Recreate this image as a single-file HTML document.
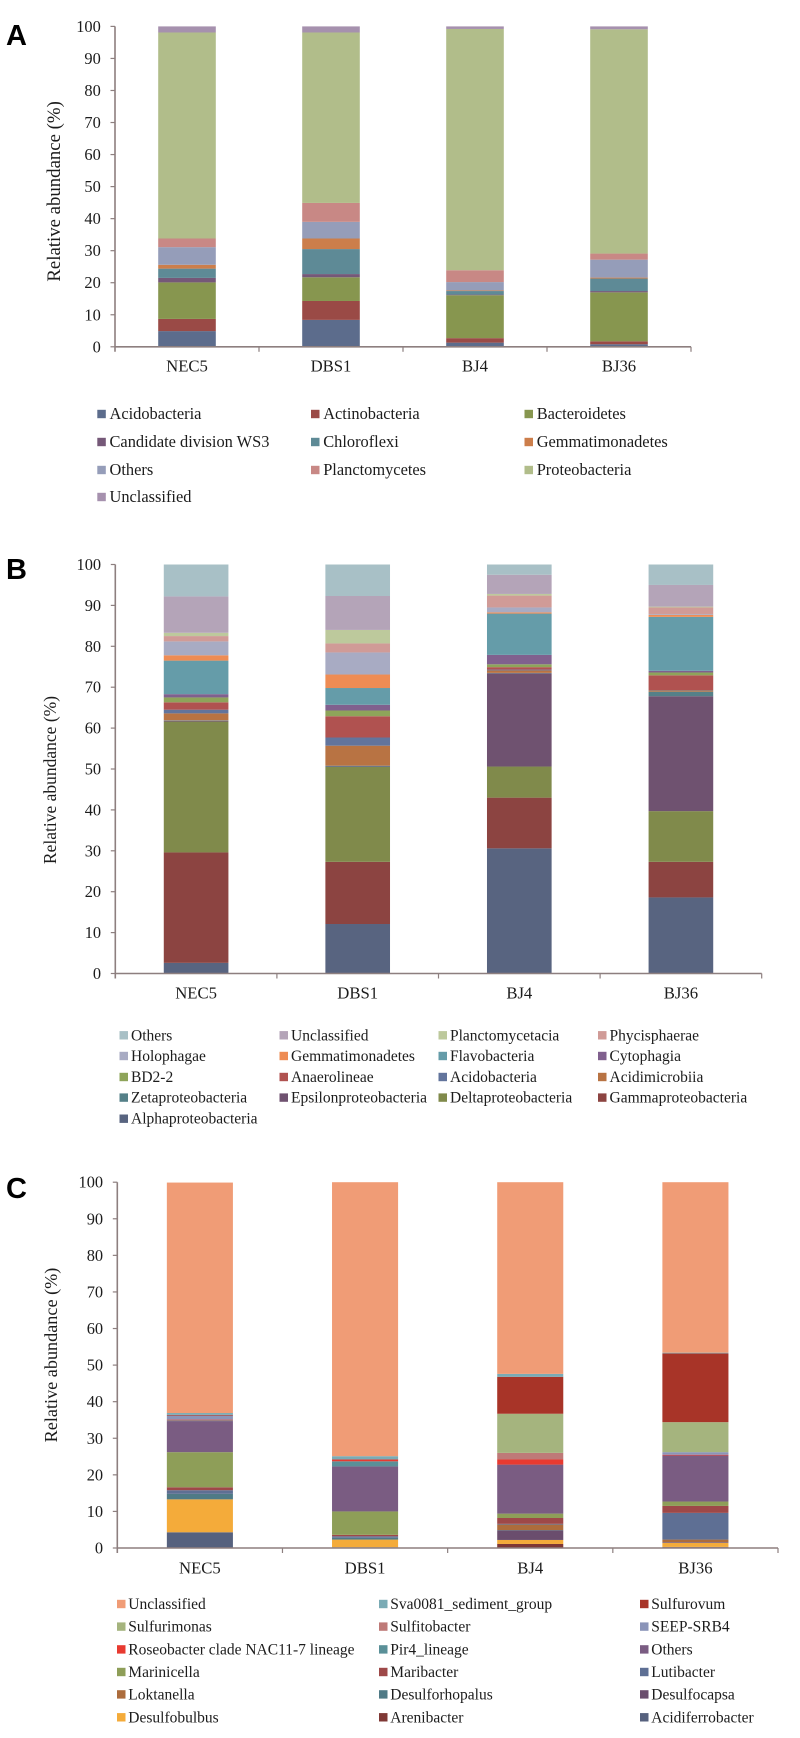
<!DOCTYPE html>
<html lang="en">
<head>
<meta charset="utf-8">
<title>Relative abundance stacked bar charts</title>
<style>
html,body{margin:0;padding:0;background:#fff;width:800px;height:1738px;overflow:hidden}
svg{display:block;filter:blur(0.3px)}
text{font-family:"Liberation Serif",serif;fill:#1c1c1c}
.panel-letter{font-family:"Liberation Sans",sans-serif;font-weight:bold;fill:#000}
</style>
</head>
<body>
<svg id="figure" xmlns="http://www.w3.org/2000/svg" width="800" height="1738" viewBox="0 0 800 1738">
  <rect x="0" y="0" width="800" height="1738" fill="#ffffff"/>
</svg>
<script>
// Shared axis data
const samples = ["NEC5", "DBS1", "BJ4", "BJ36"];
const yTicks = [0, 10, 20, 30, 40, 50, 60, 70, 80, 90, 100];

// Panel A: phylum level (stack order, bottom to top)
const seriesA = ["Acidobacteria","Actinobacteria","Bacteroidetes","Candidate division WS3","Chloroflexi","Gemmatimonadetes","Others","Planctomycetes","Proteobacteria","Unclassified"];
const a_NEC5 = [4.9,3.8,11.4,1.4,2.9,1.2,5.5,2.7,64.3,1.9];
const a_DBS1 = [8.4,5.9,7.4,1.0,7.8,3.3,5.2,5.9,53.2,1.9];
const a_BJ4  = [1.3,1.4,13.4,0.2,1.1,0.2,2.6,3.7,75.3,0.8];
const a_BJ36 = [0.8,0.9,15.3,0.4,3.9,0.3,5.6,1.9,70.0,0.9];

// Panel B: class level (stack order, bottom to top)
const seriesB = ["Alphaproteobacteria","Gammaproteobacteria","Deltaproteobacteria","Epsilonproteobacteria","Zetaproteobacteria","Acidimicrobiia","Acidobacteria","Anaerolineae","BD2-2","Cytophagia","Flavobacteria","Gemmatimonadetes","Holophagae","Phycisphaerae","Planctomycetacia","Unclassified","Others"];
const b_NEC5 = [2.6,27.0,32.0,0.2,0.1,1.7,0.9,1.8,1.2,0.8,8.2,1.3,3.4,1.3,0.8,8.9,7.8];
const b_DBS1 = [12.1,15.2,23.2,0.1,0.2,4.9,2.0,5.2,1.4,1.4,4.1,3.3,5.4,2.2,3.3,8.3,7.7];
const b_BJ4  = [30.6,12.4,7.6,22.8,0.1,0.6,0.2,0.6,0.7,2.3,10.1,0.3,1.2,2.9,0.4,4.7,2.5];
const b_BJ36 = [18.6,8.7,12.4,28.1,1.1,0.3,0.1,3.6,0.7,0.4,13.2,0.5,0.2,1.6,0.2,5.3,5.0];

// Panel C: genus level (stack order, bottom to top)
const seriesC = ["Acidiferrobacter","Arenibacter","Desulfobulbus","Desulfocapsa","Desulforhopalus","Loktanella","Lutibacter","Maribacter","Marinicella","Others","Pir4_lineage","Roseobacter clade NAC11-7 lineage","SEEP-SRB4","Sulfitobacter","Sulfurimonas","Sulfurovum","Sva0081_sediment_group","Unclassified"];
const c_NEC5 = [4.3,0,9.0,0,1.5,0,1.0,0.8,9.6,8.5,0.2,0.2,1.1,0,0,0.2,0.5,63.0];
const c_DBS1 = [0.2,0,2.1,0,0.5,0,0.4,0.4,6.4,12.3,1.4,0.5,0,0,0,0,0.9,74.9];
const c_BJ4  = [0,1.1,1.1,2.6,0.1,1.5,0.2,1.6,1.2,13.4,0,1.4,0,1.8,10.7,10.1,0.8,52.4];
const c_BJ36 = [0.2,0.1,1.1,0.2,0,0.7,7.3,1.9,1.2,12.6,0,0.2,0.7,0,8.2,18.8,0.2,46.6];

// Palettes
const paletteA = ["#5c6c8c","#9a4a46","#87964f","#755878","#5e8a96","#cc7e4b","#959db9","#c88885","#b1bd8a","#a691ae"];
const paletteB = ["#586480","#8c4441","#808a4b","#6f5270","#558088","#b87343","#62749c","#b05250","#8ea45a","#80608e","#659ca9","#ee8c54","#a8abc3","#d09b97","#bdc99c","#b4a4b8","#a8c0c6"];
const paletteC = ["#56617e","#7f3835","#f4ab3a","#6a4d6d","#4f7a86","#ac6c3c","#5e6f94","#9e4848","#8e9e58","#7a5c82","#5a9098","#e83a30","#8a94b8","#be7a78","#a5b47e","#a83428","#7aabb5","#f09c76"];

const SVG_NS = "http://www.w3.org/2000/svg";
const AXIS_COLOR = "#8d7f7f";
const figure = document.getElementById("figure");

function make(parent, tag, attrs, content) {
  const el = document.createElementNS(SVG_NS, tag);
  for (const k in attrs) el.setAttribute(k, attrs[k]);
  if (content !== undefined) el.textContent = content;
  parent.appendChild(el);
  return el;
}

function kebab(s) {
  return String(s).toLowerCase().replace(/[^a-z0-9]+/g, "-").replace(/^-|-$/g, "");
}

function drawPanel(cfg) {
  const g = make(figure, "g", {});
  
  

  const yScale = v => cfg.bottom - (v / 100) * (cfg.bottom - cfg.top);
  const band = (cfg.right - cfg.left) / samples.length;
  const xCenter = i => cfg.left + band * (i + 0.5);
  const barWidth = band * cfg.barRatio;

  const letter = make(g, "text", {class: "panel-letter", x: cfg.letterX, y: cfg.letterY, "font-size": 29}, cfg.id.toUpperCase());
  
  

  // stacked bars
  cfg.values.forEach((vals, i) => {
    let acc = 0;
    vals.forEach((v, s) => {
      if (v <= 0) return;
      const y1 = yScale(acc);
      const y2 = yScale(acc + v);
      const seg = make(g, "rect", {x: xCenter(i) - barWidth / 2, y: y2, width: barWidth, height: y1 - y2, fill: cfg.palette[s]});
      
      
      acc += v;
    });
  });

  // axes
  const yAxis = make(g, "line", {x1: cfg.left, x2: cfg.left, y1: cfg.top, y2: cfg.bottom + 5, stroke: AXIS_COLOR, "stroke-width": 1.6});
  
  
  const xAxis = make(g, "line", {x1: cfg.left, x2: cfg.right, y1: cfg.bottom, y2: cfg.bottom, stroke: AXIS_COLOR, "stroke-width": 1.6});
  
  

  yTicks.forEach(t => {
    const mark = make(g, "line", {x1: cfg.left - 4.5, x2: cfg.left, y1: yScale(t), y2: yScale(t), stroke: AXIS_COLOR, "stroke-width": 1.2});
    
    
    const label = make(g, "text", {x: cfg.left - 14.2, y: yScale(t) + 5.5, "text-anchor": "end", "font-size": 16.4}, t);
    
    
  });

  samples.forEach((name, i) => {
    const mark = make(g, "line", {x1: cfg.left + band * (i + 1), x2: cfg.left + band * (i + 1), y1: cfg.bottom, y2: cfg.bottom + 5, stroke: AXIS_COLOR, "stroke-width": 1.2});
    
    
    const label = make(g, "text", {x: xCenter(i), y: cfg.xLabelY + 5.5, "text-anchor": "middle", "font-size": 16.7}, name);
    
    
  });

  const title = make(g, "text", {
    x: cfg.titleX, y: cfg.titleY, "text-anchor": "middle", "font-size": cfg.titleSize,
    transform: "rotate(-90 " + cfg.titleX + " " + cfg.titleY + ")"
  }, "Relative abundance (%)");
  
  

  // legend
  const order = cfg.series.map((_, s) => s);
  if (cfg.reverseLegend) order.reverse();
  order.forEach((s, n) => {
    const col = n % cfg.legendCols.length;
    const row = Math.floor(n / cfg.legendCols.length);
    const ly = cfg.legendRows[row];
    const entry = make(g, "g", {});
    
    
    const swatch = make(entry, "rect", {x: cfg.legendCols[col], y: ly - 4.2, width: 8.5, height: 8.4, fill: cfg.palette[s]});
    
    
    const text = make(entry, "text", {x: cfg.legendCols[col] + cfg.legendGap, y: ly + 5, "font-size": cfg.legendSize}, cfg.series[s]);
    
    
  });
}

drawPanel({
  id: "a", series: seriesA, palette: paletteA, values: [a_NEC5, a_DBS1, a_BJ4, a_BJ36],
  left: 115, right: 691, top: 26.4, bottom: 346.8, barRatio: 0.4,
  letterX: 6, letterY: 45, xLabelY: 366,
  titleX: 60, titleY: 191.4, titleSize: 18.8,
  legendCols: [97.3, 311, 524.5], legendRows: [414, 442, 470, 497], legendGap: 12.2, legendSize: 16.4, reverseLegend: false
});

drawPanel({
  id: "b", series: seriesB, palette: paletteB, values: [b_NEC5, b_DBS1, b_BJ4, b_BJ36],
  left: 115.3, right: 761.7, top: 564.5, bottom: 973.5, barRatio: 0.4,
  letterX: 6, letterY: 579, xLabelY: 993,
  titleX: 56, titleY: 780, titleSize: 17.5,
  legendCols: [119.5, 279.5, 438.5, 598], legendRows: [1035.3, 1056, 1077, 1097.6, 1118.7], legendGap: 11.5, legendSize: 15.5, reverseLegend: true
});

drawPanel({
  id: "c", series: seriesC, palette: paletteC, values: [c_NEC5, c_DBS1, c_BJ4, c_BJ36],
  left: 117.3, right: 778, top: 1182.2, bottom: 1548, barRatio: 0.4,
  letterX: 6, letterY: 1198, xLabelY: 1568,
  titleX: 57, titleY: 1355, titleSize: 18.2,
  legendCols: [117, 379, 640], legendRows: [1604, 1626.6, 1649.4, 1672, 1694.4, 1717.3], legendGap: 11.3, legendSize: 15.5, reverseLegend: true
});
</script>
</body>
</html>
